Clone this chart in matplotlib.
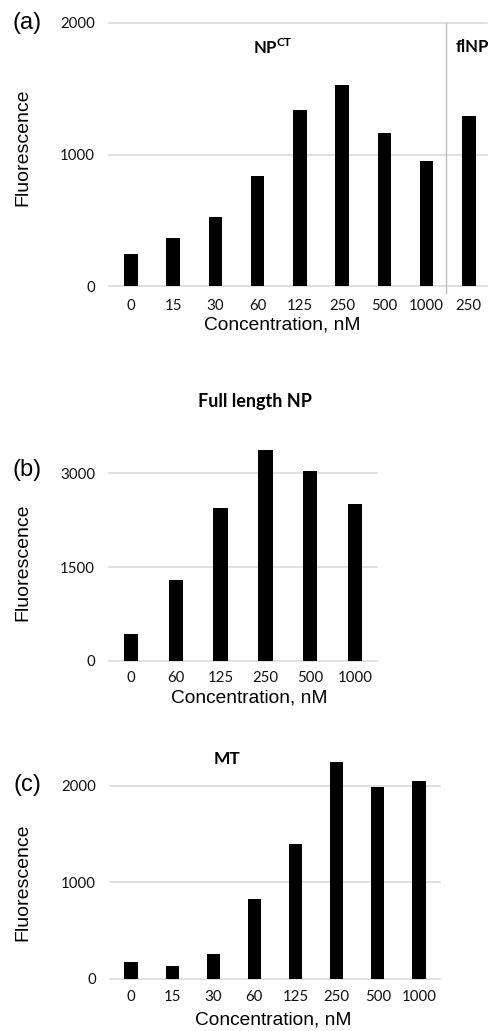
import numpy as np
import matplotlib
matplotlib.use("Agg")
from matplotlib import pyplot as plt

# data
conc_a = ["0", "15", "30", "60", "125", "250", "500", "1000", "250"]
fluor_a = [247, 366, 527, 840, 1338, 1532, 1163, 949, 1295]

conc_b = ["0", "60", "125", "250", "500", "1000"]
fluor_b = [436, 1287, 2447, 3372, 3032, 2516]

conc_c = ["0", "15", "30", "60", "125", "250", "500", "1000"]
fluor_c = [176, 134, 259, 824, 1403, 2245, 1993, 2052]

W, H = 491, 1031
GRID = "#d6d6d6"
TICKFONT = "Lato"
LABFONT = "Liberation Sans"


def px(x, y):
    return x / W, 1 - y / H


def box(left, top, right, bottom):
    return [left / W, 1 - bottom / H, (right - left) / W, (bottom - top) / H]


def panel(fig, rect, labels, values, yticks, ylim, xlim, xpad, ypad=10):
    ax = fig.add_axes(rect)
    x = np.arange(len(values))
    ax.bar(x, values, width=0.32, color="black", zorder=3)
    ax.set_xlim(*xlim)
    ax.set_ylim(*ylim)
    ax.set_yticks(yticks)
    ax.set_xticks(x)
    ax.set_xticklabels(labels)
    for t in yticks:
        ax.axhline(t, color=GRID, lw=1.1, zorder=1, clip_on=False)
    for s in ax.spines.values():
        s.set_visible(False)
    ax.tick_params(axis="x", length=0, pad=xpad)
    ax.tick_params(axis="y", length=0, pad=ypad)
    for lab in ax.get_xticklabels() + ax.get_yticklabels():
        lab.set_fontfamily(TICKFONT)
        lab.set_fontsize(10.8)
        lab.set_color("#111111")
    return ax


def main():
    fig = plt.figure(figsize=(W / 100, H / 100), dpi=100)

    # (a)
    ax = panel(fig, box(109, 23, 487, 286), conc_a, fluor_a,
               [0, 1000, 2000], (0, 2000), (-0.52, 8.43), xpad=9.5)
    ax.plot([7.46, 7.46], [2000, -55], color="#bdbdbd", lw=1, clip_on=False, zorder=2)
    fig.text(*px(273, 47), r"NP$^{\mathregular{CT}}$", ha="center", va="center",
             fontsize=12, fontweight="bold", family=TICKFONT)
    fig.text(*px(472, 47), "flNP", ha="center", va="center",
             fontsize=12, fontweight="bold", family=TICKFONT)
    fig.text(*px(27, 23), "(a)", ha="center", va="center", fontsize=17, family=LABFONT)
    fig.text(*px(23, 147), "Fluorescence", rotation=90, ha="center", va="center",
             fontsize=14, family=LABFONT)
    fig.text(*px(282, 325), "Concentration, nM", ha="center", va="center",
             fontsize=13.8, family=LABFONT)

    # (b)
    ax = panel(fig, box(109, 442, 377, 661), conc_b, fluor_b,
               [0, 1500, 3000], (0, 3500), (-0.49, 5.49), xpad=7.5)
    fig.text(*px(255, 401), "Full length NP", ha="center", va="center",
             fontsize=13, fontweight="bold", family=TICKFONT)
    fig.text(*px(27, 470), "(b)", ha="center", va="center", fontsize=17, family=LABFONT)
    fig.text(*px(23, 562), "Fluorescence", rotation=90, ha="center", va="center",
             fontsize=14, family=LABFONT)
    fig.text(*px(249, 698), "Concentration, nM", ha="center", va="center",
             fontsize=13.8, family=LABFONT)

    # (c)
    ax = panel(fig, box(110, 757, 440, 979), conc_c, fluor_c,
               [0, 1000, 2000], (0, 2300), (-0.51, 7.51), xpad=8)
    fig.text(*px(227, 759), "MT", ha="center", va="center",
             fontsize=12.5, fontweight="bold", family=TICKFONT)
    fig.text(*px(27, 785), "(c)", ha="center", va="center", fontsize=17, family=LABFONT)
    fig.text(*px(23, 882), "Fluorescence", rotation=90, ha="center", va="center",
             fontsize=14, family=LABFONT)
    fig.text(*px(273, 1020), "Concentration, nM", ha="center", va="center",
             fontsize=13.8, family=LABFONT)

    fig.savefig("out.png", dpi=100)


if __name__ == "__main__":
    main()
